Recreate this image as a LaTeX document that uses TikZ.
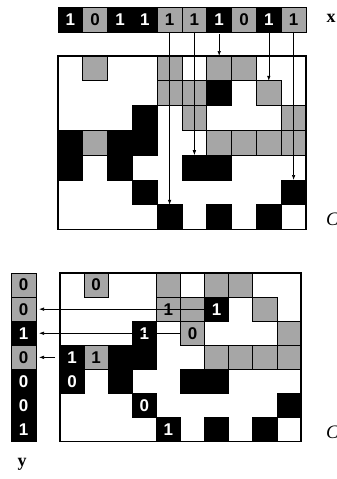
\documentclass[tikz,border=0pt]{standalone}
\usepackage{fontspec}
\setmainfont{Liberation Serif}
\setsansfont{Liberation Sans}
\usetikzlibrary{arrows.meta,positioning}
\definecolor{cellgray}{gray}{0.65}
\tikzset{
  cell/.style={rectangle, draw=black, line width=0.8pt, inner sep=0pt, outer sep=0pt, font=\sffamily\bfseries\fontsize{17}{17}\selectfont},
  bk/.style={cell, fill=black, text=white},
  gy/.style={cell, fill=cellgray, text=black},
  frame/.style={rectangle, draw=black, line width=1.2pt, inner sep=0pt, outer sep=0pt},
  arr/.style={-{Latex[length=5pt,width=3.5pt]}, line width=0.6pt},
  lab/.style={inner sep=0pt, font=\fontsize{18}{18}\selectfont}
}
% row/col/colour/value of the filled cells of C (~ = no value shown)
\def\cellsC{0/1/gy/0, 0/4/gy/~, 0/6/gy/~, 0/7/gy/~,
  1/4/gy/1, 1/5/gy/~, 1/6/bk/1, 1/8/gy/~,
  2/3/bk/1, 2/5/gy/0, 2/9/gy/~,
  3/0/bk/1, 3/1/gy/1, 3/2/bk/~, 3/3/bk/~, 3/6/gy/~, 3/7/gy/~, 3/8/gy/~, 3/9/gy/~,
  4/0/bk/0, 4/2/bk/~, 4/5/bk/~, 4/6/bk/~,
  5/3/bk/0, 5/9/bk/~,
  6/4/bk/1, 6/6/bk/~, 6/8/bk/~}

\begin{document}
\begin{tikzpicture}[x=1pt, y=-1pt]
\useasboundingbox (0,0) rectangle (337,479);

% vector x
\foreach \val/\fc [count=\i from 0] in {1/bk,0/gy,1/bk,1/bk,1/gy,1/gy,1/bk,0/gy,1/bk,1/gy}
  \node[\fc, minimum size=24.8pt] (x\i) at ({58+(\i+.5)*24.8},19.5) {\val};
\node[lab, font=\bfseries\fontsize{18}{18}\selectfont] (xlab) at (331,18) {x};

% upper matrix
\begin{scope}[shift={(58,56)}]
  \foreach \row/\col/\fc/\val in \cellsC
    \node[\fc, minimum size=24.8pt] (t-\row-\col) at ({(\col+.5)*24.8},{(\row+.5)*24.8}) {};
  \node[frame, minimum width=248pt, minimum height=173.6pt] (tC) at (124,86.8) {};
\end{scope}
\node[lab, font=\itshape\fontsize{19}{19}\selectfont, anchor=west] (ctop) at (326,219) {C};

\draw[arr] (x4.south) -- (t-6-4.north);
\draw[arr] (x5.south) -- (t-4-5.north);
\draw[arr, shorten <=2pt] (x6.south) -- (t-0-6.north);
\draw[arr] (x8.south) -- (t-1-8.north);
\draw[arr] (x9.south) -- (t-5-9.north);

% lower matrix
\begin{scope}[shift={(60,273)}]
  \foreach \row/\col/\fc/\val in \cellsC
    \node[\fc, minimum size=24.1pt] (b-\row-\col) at ({(\col+.5)*24.1},{(\row+.5)*24.1}) {\val};
  \node[frame, minimum width=241pt, minimum height=168.7pt] (bC) at (120.5,84.35) {};
\end{scope}
\node[lab, font=\itshape\fontsize{19}{19}\selectfont, anchor=west] (cbot) at (326,432) {C};

% vector y
\foreach \val/\fc [count=\i from 0] in {0/gy,0/gy,1/bk,0/gy,0/bk,0/bk,1/bk}
  \node[\fc, minimum width=25pt, minimum height=24.1pt] (y\i) at (23.5,{273+(\i+.5)*24.1}) {\val};
\node[lab, font=\bfseries\fontsize{18}{18}\selectfont] (ylab) at (22,464) {y};

\draw[arr, shorten >=3pt] (b-1-6.west) -- (y1.east);
\draw[arr, shorten >=3pt] (b-2-5.west) -- (y2.east);
\draw[arr, shorten >=3pt, shorten <=5pt] (b-3-0.west) -- (y3.east);
\end{tikzpicture}
\end{document}
